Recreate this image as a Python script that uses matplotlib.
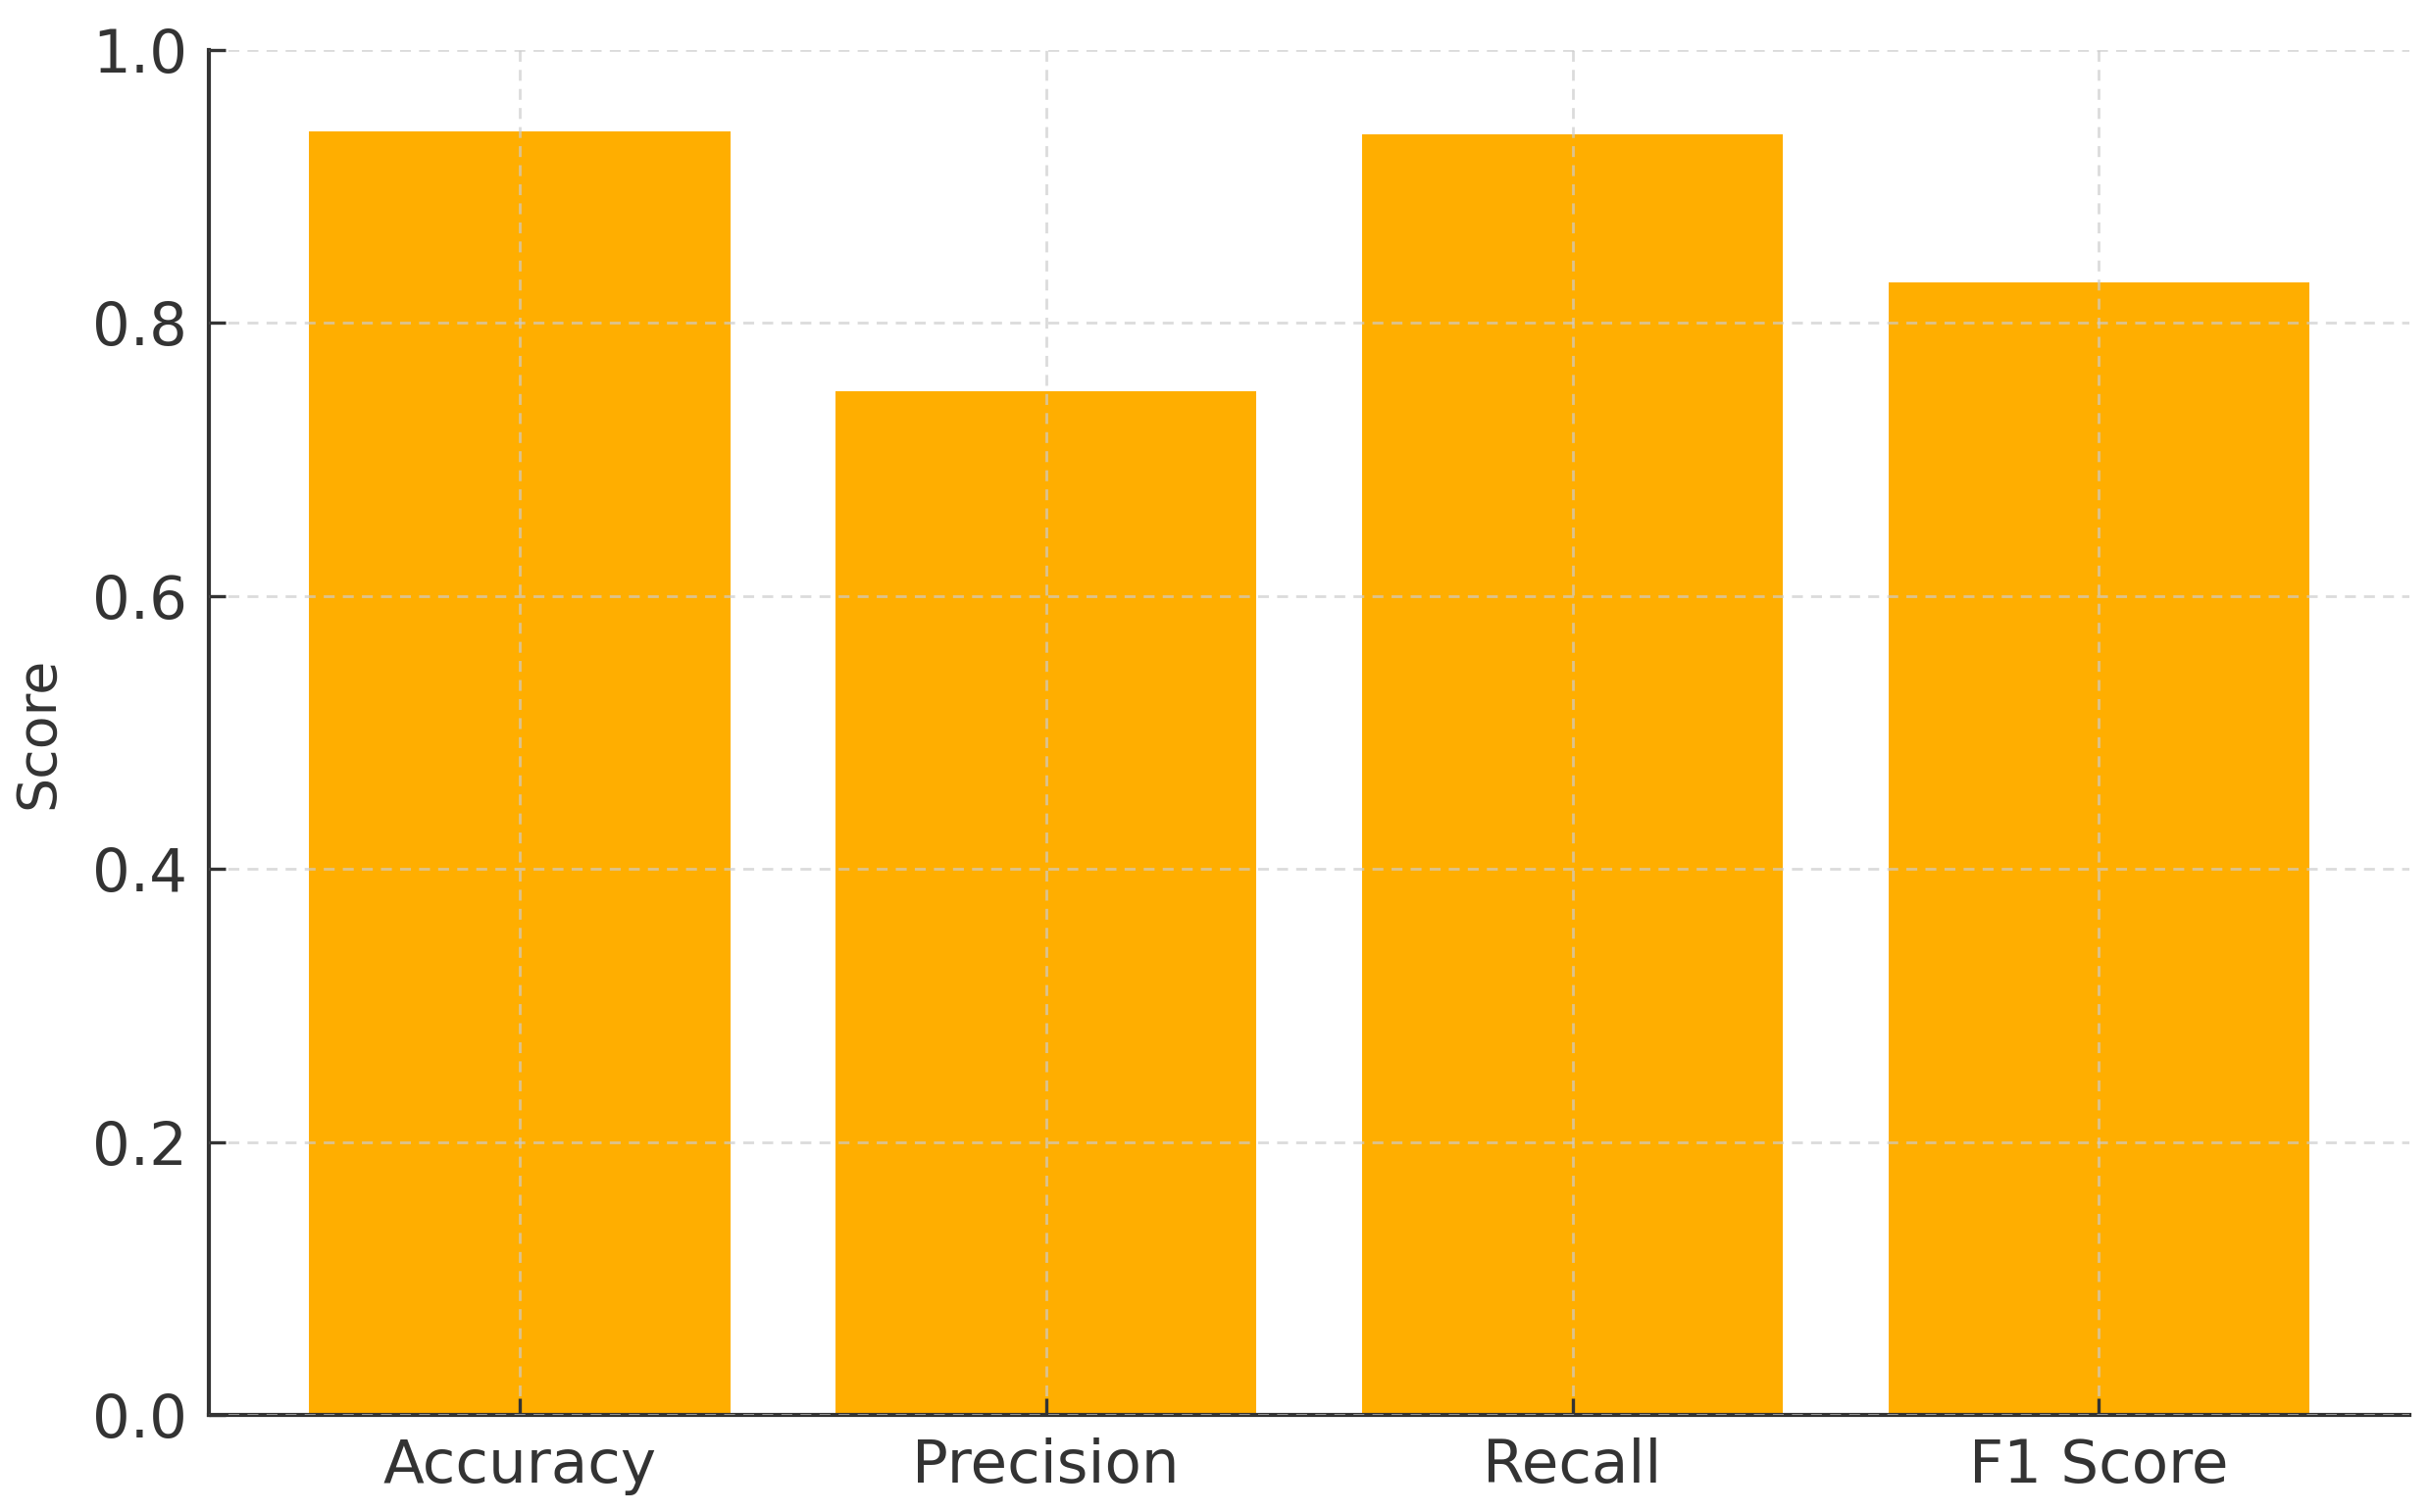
import matplotlib
matplotlib.use("Agg")
from matplotlib import pyplot as plt
import numpy as np

# metric scores
metrics = ["Accuracy", "Precision", "Recall", "F1 Score"]
scores = [0.94, 0.75, 0.938, 0.83]
yticks = [0.0, 0.2, 0.4, 0.6, 0.8, 1.0]

bar_color = "#FFAE00"

fig = plt.figure(figsize=(12.385, 7.71), dpi=200)
ax = fig.add_axes([0.086, 0.064, 0.906, 0.903])

x = np.arange(len(metrics))
ax.bar(x, scores, width=0.8, color=bar_color)

ax.set_ylim(0, 1.0)
ax.set_yticks(yticks)
ax.set_xticks(x)
ax.set_xticklabels(metrics)
ax.set_ylabel("Score", fontsize=20, color="#333333", labelpad=10)

# dashed grid drawn over the bars
ax.set_axisbelow(False)
ax.grid(True, linestyle=(0, (4, 3)), color="#cccccc", linewidth=1.0, alpha=0.7)

for side in ["top", "right"]:
  ax.spines[side].set_visible(False)
for side in ["left", "bottom"]:
  ax.spines[side].set_color("#333333")
  ax.spines[side].set_linewidth(1.5)

ax.tick_params(axis="both", direction="in", length=6, width=1.2,
               colors="#333333", labelsize=22, pad=8)

fig.savefig("out.png", dpi=200)
